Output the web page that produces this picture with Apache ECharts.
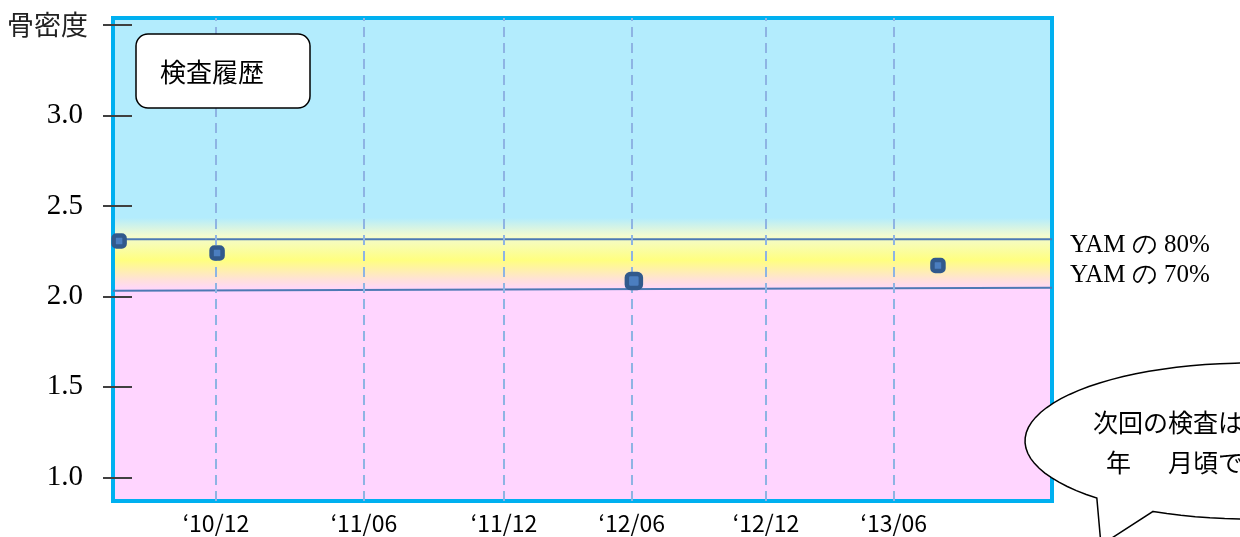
<!DOCTYPE html>
<html>
<head>
<meta charset="utf-8">
<script src="https://cdn.jsdelivr.net/npm/echarts@6/dist/echarts.min.js"></script>
<style>
html,body{margin:0;padding:0;background:#fff;}
#chart{width:1240px;height:537px;}
</style>
</head>
<body>
<div id="chart"></div>
<script>
// ---- data ----
const xTickVals = [11.05, 17.59, 23.78, 29.43, 35.36, 41.01];
const xTickLabels = ['\u201810/12', '\u201811/06', '\u201811/12', '\u201812/06', '\u201812/12', '\u201813/06'];
const measureX = [6.77, 11.10, 29.52, 42.96];
const measureY = [2.306, 2.240, 2.085, 2.171];
const yamX = [6.5, 48];
const yam80 = [2.316, 2.316];
const yam70 = [2.031, 2.048];
const yTickVals = [1.0, 1.5, 2.0, 2.5, 3.0, 3.5];
const yTopLabel = '骨密度';
const yam80Label = 'YAM の 80%';
const yam70Label = 'YAM の 70%';
const historyTitle = '検査履歴';
const bubbleLine1 = '次回の検査は';
const bubbleYear = '年';
const bubbleMonth = '月頃です';

// ---- chart ----
const Y_MIN = 0.869, Y_MAX = 3.539;
const X_MIN = 6.5, X_MAX = 48;
const off = v => (Y_MAX - v) / (Y_MAX - Y_MIN);

// speech bubble outline (ellipse with a tail)
function bubblePoints(cx, cy, rx, ry, t0, t1, tip) {
  const pts = [];
  const n = 90;
  for (let i = 0; i <= n; i++) {
    const t = (t0 + (t1 - t0) * i / n) * Math.PI / 180;
    pts.push([cx + rx * Math.cos(t), cy + ry * Math.sin(t)]);
  }
  pts.push(tip);
  return pts;
}
const bubble = bubblePoints(1250, 441, 225, 78, 115.5, 132.9 - 360, [1101, 545]);

const chart = echarts.init(document.getElementById('chart'), null, {renderer: 'canvas'});
const serif = '"Liberation Serif", "DejaVu Serif", serif';
const jp = '"Noto Sans CJK JP", "Noto Sans", sans-serif';

const option = {
  animation: false,
  grid: {
    left: 113, right: 188, top: 18, bottom: 36,
    show: true,
    borderColor: '#00b0f0',
    borderWidth: 4,
    outerBoundsMode: 'none',
    backgroundColor: {
      type: 'linear', x: 0, y: 0, x2: 0, y2: 1,
      colorStops: [
        {offset: 0, color: '#b3ecfd'},
        {offset: off(2.433), color: '#b3ecfd'},
        {offset: off(2.334), color: '#f3fbd0'},
        {offset: off(2.20), color: '#ffff80'},
        {offset: off(2.089), color: '#ffe0dc'},
        {offset: off(2.034), color: '#ffd5ff'},
        {offset: 1, color: '#ffd5ff'}
      ]
    }
  },
  xAxis: {
    type: 'value', min: X_MIN, max: X_MAX,
    axisLine: {show: false},
    axisTick: {show: false},
    splitLine: {show: false},
    axisLabel: {
      customValues: xTickVals,
      formatter: v => {
        const i = xTickVals.findIndex(t => Math.abs(t - v) < 1e-6);
        return i >= 0 ? xTickLabels[i] : '';
      },
      fontFamily: jp, fontSize: 23, color: '#000', margin: 11
    }
  },
  yAxis: [{
    type: 'value', min: Y_MIN, max: Y_MAX, position: 'left',
    axisLine: {show: false},
    splitLine: {show: false},
    axisTick: {show: true, customValues: yTickVals, inside: false, length: 10,
      lineStyle: {color: '#404040', width: 2}},
    axisLabel: {
      customValues: yTickVals,
      margin: 30,
      formatter: v => Math.abs(v - 3.5) < 1e-6 ? '{t|' + yTopLabel + '}' : v.toFixed(1),
      fontFamily: serif, fontSize: 29, color: '#000',
      rich: {t: {fontFamily: jp, fontSize: 27, color: '#222', width: 76, align: 'left'}}
    }
  }, {
    type: 'value', min: Y_MIN, max: Y_MAX, position: 'left',
    axisLine: {show: false},
    splitLine: {show: false},
    axisLabel: {show: false},
    axisTick: {show: true, customValues: yTickVals, inside: true, length: 19,
      lineStyle: {color: '#404040', width: 2}}
  }],
  series: [
    {
      type: 'line', name: 'yam80', z: 3,
      data: yamX.map((x, i) => [x, yam80[i]]),
      showSymbol: false, symbol: 'none',
      lineStyle: {color: '#4d79b4', width: 2},
      endLabel: {show: true, formatter: yam80Label, distance: 18, offset: [0, 6],
        fontFamily: serif, fontSize: 25, color: '#000'},
      markLine: {
        silent: true, symbol: ['none', 'none'], label: {show: false},
        lineStyle: {color: '#8eb4e3', width: 2, type: [10, 6]},
        data: xTickVals.map(v => ({xAxis: v}))
      }
    },
    {
      type: 'line', name: 'yam70', z: 3,
      data: yamX.map((x, i) => [x, yam70[i]]),
      showSymbol: false, symbol: 'none',
      lineStyle: {color: '#4d79b4', width: 2},
      endLabel: {show: true, formatter: yam70Label, distance: 18, offset: [0, -12],
        fontFamily: serif, fontSize: 25, color: '#000'}
    },
    {
      type: 'scatter', name: 'measure', z: 5,
      data: measureX.map((x, i) => [x, measureY[i]]),
      symbol: 'roundRect',
      symbolSize: (val, p) => p.dataIndex === 2 ? 14 : 11,
      itemStyle: {color: '#4b7ec0', borderColor: '#31598c', borderWidth: 4.5, opacity: 1}
    }
  ],
  graphic: [
    {
      type: 'rect', z: 100,
      shape: {x: 136, y: 34, width: 174, height: 74, r: 12},
      style: {fill: '#fff', stroke: '#000', lineWidth: 1.5}
    },
    {
      type: 'text', z: 101, x: 160, y: 72,
      style: {text: historyTitle, font: '26px "Noto Sans CJK JP"', fill: '#000', verticalAlign: 'middle'}
    },
    {
      type: 'polygon', z: 100,
      shape: {points: bubble},
      style: {fill: '#fff', stroke: '#000', lineWidth: 1.5}
    },
    {
      type: 'text', z: 101, x: 1093, y: 422,
      style: {text: bubbleLine1, font: '25px "Noto Sans CJK JP"', fill: '#000', verticalAlign: 'middle'}
    },
    {
      type: 'text', z: 101, x: 1106, y: 462,
      style: {text: bubbleYear, font: '25px "Noto Sans CJK JP"', fill: '#000', verticalAlign: 'middle'}
    },
    {
      type: 'text', z: 101, x: 1168, y: 462,
      style: {text: bubbleMonth, font: '25px "Noto Sans CJK JP"', fill: '#000', verticalAlign: 'middle'}
    }
  ]
};
chart.setOption(option);
</script>
</body>
</html>
